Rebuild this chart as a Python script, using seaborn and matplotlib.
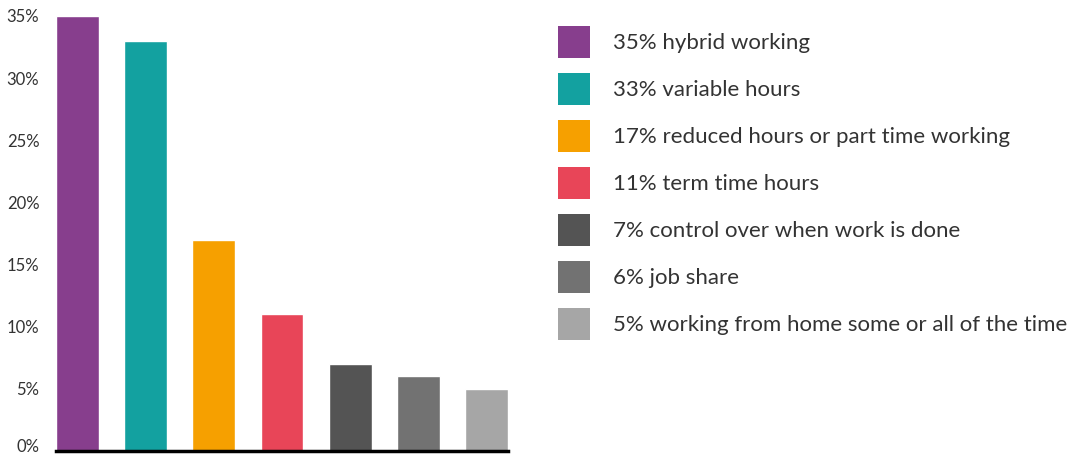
import matplotlib
matplotlib.use("Agg")
import matplotlib.pyplot as plt
import matplotlib.transforms as mtransforms
import seaborn as sns
import pandas as pd
from matplotlib.patches import Patch

categories = ["hybrid working", "variable hours", "reduced hours or part time working",
              "term time hours", "control over when work is done", "job share",
              "working from home some or all of the time"]
values = [35, 33, 17, 11, 7, 6, 5]
colors = ["#873E8D", "#13A1A0", "#F6A000", "#E84558", "#545454", "#727272", "#A6A6A6"]
yticks = [0, 5, 10, 15, 20, 25, 30, 35]

sns.set_theme(style="white")
plt.rcParams['font.family'] = ['Lato', 'DejaVu Sans']

df = pd.DataFrame({"category": categories, "value": values})

fig = plt.figure(figsize=(10.76, 4.57), dpi=100)
ax = fig.add_axes([56/1076, 6/457, 452/1076, 435/457])
sns.barplot(data=df, x="category", y="value", hue="category", palette=colors,
            legend=False, ax=ax, width=0.63, saturation=1)

ax.set_xlim(-0.315, 6.315)
ax.set_ylim(0, 35)
ax.set_yticks(yticks)
ax.set_yticklabels([f"{t}%" for t in yticks], fontsize=12, color="#333333")
ax.set_xticks([])
ax.set_xlabel("")
ax.set_ylabel("")
ax.tick_params(axis="y", length=0, pad=12)
for s in ["top", "right", "left"]:
    ax.spines[s].set_visible(False)
ax.spines["bottom"].set_color("black")
ax.spines["bottom"].set_linewidth(2.5)

# nudge the 0% label up slightly so it stays inside the canvas
zero_lbl = ax.get_yticklabels()[0]
zero_lbl.set_transform(zero_lbl.get_transform() +
                       mtransforms.ScaledTranslation(0, 4/72, fig.dpi_scale_trans))

fs_pt = 16
fs_px = fs_pt * 100 / 72
box = 32
hh = (box / fs_px - 0.245) / 0.65
handles = [Patch(facecolor=c, edgecolor="none") for c in colors]
labels = [f"{v}% {c}" for v, c in zip(values, categories)]
fig.legend(handles, labels, loc="upper left", bbox_to_anchor=(558/1076, 1 - 26/457),
           frameon=False, fontsize=fs_pt, handlelength=box / fs_px, handleheight=hh,
           handletextpad=23 / fs_px, labelspacing=15 / fs_px, borderpad=0, borderaxespad=0,
           labelcolor="#333333")

fig.savefig("out.png", dpi=100)
